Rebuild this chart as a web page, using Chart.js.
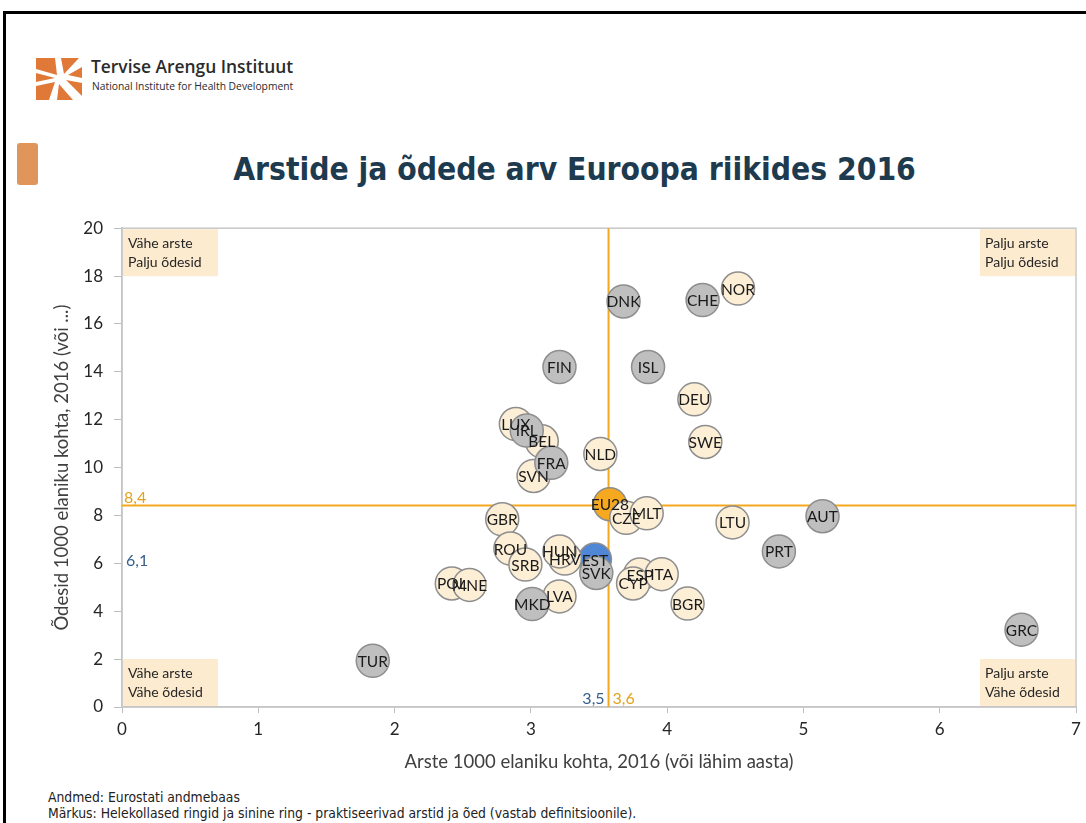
<!DOCTYPE html>
<html>
<head>
<meta charset="utf-8">
<script src="https://cdn.jsdelivr.net/npm/chart.js@4/dist/chart.umd.min.js"></script>
<style>
  body { margin: 0; width: 1086px; height: 823px; overflow: hidden; position: relative; background: #fff; font-family: Lato, sans-serif; }
  #frame { position: absolute; left: 3px; top: 11px; right: 0; bottom: 0; border-left: 3px solid #000; border-top: 3px solid #000; }
  #logo { position: absolute; left: 36px; top: 56px; }
  #logoText1 { position: absolute; left: 91px; top: 54px; font-family: "Open Sans", sans-serif; font-weight: 600; font-size: 17.4px; color: #2b2b2b; }
  #logoText2 { position: absolute; left: 92px; top: 79px; font-family: "Open Sans", sans-serif; font-size: 10.3px; color: #2b2b2b; }
  #bullet { position: absolute; left: 17px; top: 143px; width: 21px; height: 42px; background: #E0965A; border-radius: 3px; }
  #title { position: absolute; left: 0; width: 1149px; top: 151px; text-align: center; font-family: "DejaVu Sans Condensed", "DejaVu Sans", sans-serif; font-stretch: condensed; font-weight: bold; font-size: 31.5px; color: #1D3A4F; }
  #wrap { position: absolute; left: 0; top: 207px; width: 1094px; height: 570px; }
  .note { position: absolute; left: 48px; font-family: "DejaVu Sans Condensed", "DejaVu Sans", sans-serif; font-stretch: condensed; font-size: 13.8px; color: #222; white-space: nowrap; }
</style>
</head>
<body>
<div id="frame"></div>
<svg id="logo" width="48" height="44" viewBox="0 0 48 44">
  <g fill="#E07838">
    <polygon points="0,2 19,2 21,19 0,13"/>
    <polygon points="25,2 43,2 28,18"/>
    <polygon points="0,17 19,22 0,26"/>
    <polygon points="0,30 19,26 13,44 0,44"/>
    <polygon points="23,28 37,44 21,44"/>
    <polygon points="30,24 46,27 46,40"/>
    <polygon points="32,19 46,11 46,22"/>
  </g>
</svg>
<div id="logoText1">Tervise Arengu Instituut</div>
<div id="logoText2">National Institute for Health Development</div>
<div id="bullet"></div>
<div id="title">Arstide ja õdede arv Euroopa riikides 2016</div>
<div id="wrap"><canvas id="chart"></canvas></div>
<div class="note" style="top:789px">Andmed: Eurostati andmebaas</div>
<div class="note" style="top:805px">Märkus: Helekollased ringid ja sinine ring - praktiseerivad arstid ja õed (vastab definitsioonile).</div>
<script>
// g = muud (hall), b = praktiseerivad (helekollane), e = Eesti, u = EL28
const countries = ['CHE','DNK','FIN','ISL','IRL','FRA','SVK','MKD','AUT','PRT','GRC','TUR',
  'NOR','DEU','SWE','NLD','LUX','BEL','SVN','CZE','MLT','GBR','ROU','SRB','HRV','HUN',
  'POL','MNE','LVA','ESP','CYP','ITA','BGR','LTU','EST','EU28'];
const doctors = [4.26, 3.68, 3.21, 3.86, 2.97, 3.15, 3.48, 3.01, 5.14, 4.82, 6.60, 1.84,
  4.52, 4.20, 4.28, 3.51, 2.89, 3.08, 3.02, 3.70, 3.85, 2.79, 2.85, 2.96, 3.25, 3.21,
  2.42, 2.55, 3.21, 3.80, 3.75, 3.96, 4.15, 4.48, 3.47, 3.58];
const nurses = [17.0, 16.94, 14.2, 14.2, 11.55, 10.2, 5.6, 4.3, 7.97, 6.5, 3.23, 1.93,
  17.48, 12.85, 11.07, 10.57, 11.82, 11.1, 9.65, 7.9, 8.09, 7.84, 6.62, 5.95, 6.2, 6.5,
  5.16, 5.1, 4.62, 5.53, 5.16, 5.55, 4.32, 7.71, 6.16, 8.47];
const groups = ['g','g','g','g','g','g','g','g','g','g','g','g',
  'b','b','b','b','b','b','b','b','b','b','b','b','b','b',
  'b','b','b','b','b','b','b','b','e','u'];
const xTicks = [0, 1, 2, 3, 4, 5, 6, 7];
const yTicks = [0, 2, 4, 6, 8, 10, 12, 14, 16, 18, 20];
const refDoctors = 3.57;   // "3,6"
const refNurses = 8.42;    // "8,4"

const groupColors = { g: '#BFBFBF', b: '#FDEFD6', e: '#4F86D6', u: '#F6A81E' };

const datasets = ['g', 'b', 'e', 'u'].map(g => ({
  data: countries.map((c, i) => ({ x: doctors[i], y: nurses[i], label: c, g: groups[i] })).filter(p => p.g === g),
  backgroundColor: groupColors[g],
  borderColor: '#8E8E8E',
  borderWidth: 1.5,
  pointRadius: 16.5,
  pointHoverRadius: 16.5
}));

const quadrants = [
  { corner: 'tl', lines: ['Vähe arste', 'Palju õdesid'] },
  { corner: 'tr', lines: ['Palju arste', 'Palju õdesid'] },
  { corner: 'bl', lines: ['Vähe arste', 'Vähe õdesid'] },
  { corner: 'br', lines: ['Palju arste', 'Vähe õdesid'] }
];

const decor = {
  id: 'decor',
  beforeDatasetsDraw(chart) {
    const { ctx, chartArea: a, scales: { x, y } } = chart;
    ctx.save();
    ctx.strokeStyle = '#C8C8C8';
    ctx.lineWidth = 1.5;
    ctx.strokeRect(a.left, a.top, a.width, a.height);

    // quadrant text boxes
    ctx.font = '14px Lato';
    ctx.textBaseline = 'alphabetic';
    quadrants.forEach(q => {
      const w = 95, h = 47;
      const bx = q.corner[1] === 'l' ? a.left + 1 : a.right - w - 1;
      const by = q.corner[0] === 't' ? a.top + 1 : a.bottom - h - 1;
      ctx.fillStyle = '#FCEBCF';
      ctx.fillRect(bx, by, w, h);
      ctx.fillStyle = '#262626';
      ctx.textAlign = 'left';
      ctx.fillText(q.lines[0], bx + 5, by + 19);
      ctx.fillText(q.lines[1], bx + 5, by + 38);
    });

    // average lines
    ctx.strokeStyle = '#F5A81E';
    ctx.lineWidth = 2;
    const rx = x.getPixelForValue(refDoctors);
    const ry = y.getPixelForValue(refNurses);
    ctx.beginPath();
    ctx.moveTo(rx, a.top); ctx.lineTo(rx, a.bottom);
    ctx.moveTo(a.left, ry); ctx.lineTo(a.right, ry);
    ctx.stroke();
    ctx.restore();
  },
  afterDatasetsDraw(chart) {
    const { ctx, scales: { x, y } } = chart;
    ctx.save();
    ctx.font = '15.5px Lato';
    ctx.fillStyle = '#1A1A1A';
    ctx.textAlign = 'center';
    ctx.textBaseline = 'middle';
    chart.data.datasets.forEach(ds => ds.data.forEach(p => {
      ctx.fillText(p.label, x.getPixelForValue(p.x), y.getPixelForValue(p.y) + 1);
    }));

    // value labels for the lines
    const rx = x.getPixelForValue(refDoctors);
    const ry = y.getPixelForValue(refNurses);
    const a = chart.chartArea;
    ctx.font = '16px Lato';
    ctx.textBaseline = 'alphabetic';
    ctx.textAlign = 'left';
    ctx.fillStyle = '#E3A21A';
    ctx.fillText('8,4', a.left + 2, ry - 2);
    ctx.fillText('3,6', rx + 4, a.bottom - 3);
    ctx.fillStyle = '#365F8C';
    ctx.fillText('6,1', a.left + 4, y.getPixelForValue(6.1) + 5);
    ctx.textAlign = 'right';
    ctx.fillText('3,5', rx - 4, a.bottom - 3);
    ctx.restore();
  }
};

new Chart(document.getElementById('chart'), {
  type: 'scatter',
  data: { datasets },
  plugins: [decor],
  options: {
    responsive: true,
    maintainAspectRatio: false,
    animation: false,
    layout: { padding: { left: 47, top: 15, right: 1, bottom: 0 } },
    plugins: { legend: { display: false }, tooltip: { enabled: false } },
    scales: {
      x: {
        min: 0, max: 7,
        afterBuildTicks: s => { s.ticks = xTicks.map(v => ({ value: v })); },
        afterFit: s => { s.height = 70; },
        grid: { drawOnChartArea: false, drawTicks: true, tickLength: 6, color: '#BFBFBF' },
        border: { color: '#BFBFBF', width: 1.5 },
        ticks: { color: '#262626', font: { family: 'Lato', size: 17 }, padding: 6 },
        title: { display: true, text: 'Arste 1000 elaniku kohta, 2016 (või lähim aasta)', color: '#404040', font: { family: 'Lato', size: 18.5 }, padding: { top: 4, bottom: 4 } }
      },
      y: {
        min: 0, max: 20,
        afterBuildTicks: s => { s.ticks = yTicks.map(v => ({ value: v })); },
        afterFit: s => { s.width = 75; },
        grid: { drawOnChartArea: false, drawTicks: true, tickLength: 8, color: '#BFBFBF' },
        border: { color: '#BFBFBF', width: 1.5 },
        ticks: { color: '#262626', font: { family: 'Lato', size: 17 }, padding: 11 },
        title: { display: true, text: 'Õdesid 1000 elaniku kohta, 2016 (või ...)', color: '#404040', font: { family: 'Lato', size: 18.5 }, padding: { top: 4, bottom: 4 } }
      }
    }
  }
});
</script>
</body>
</html>
